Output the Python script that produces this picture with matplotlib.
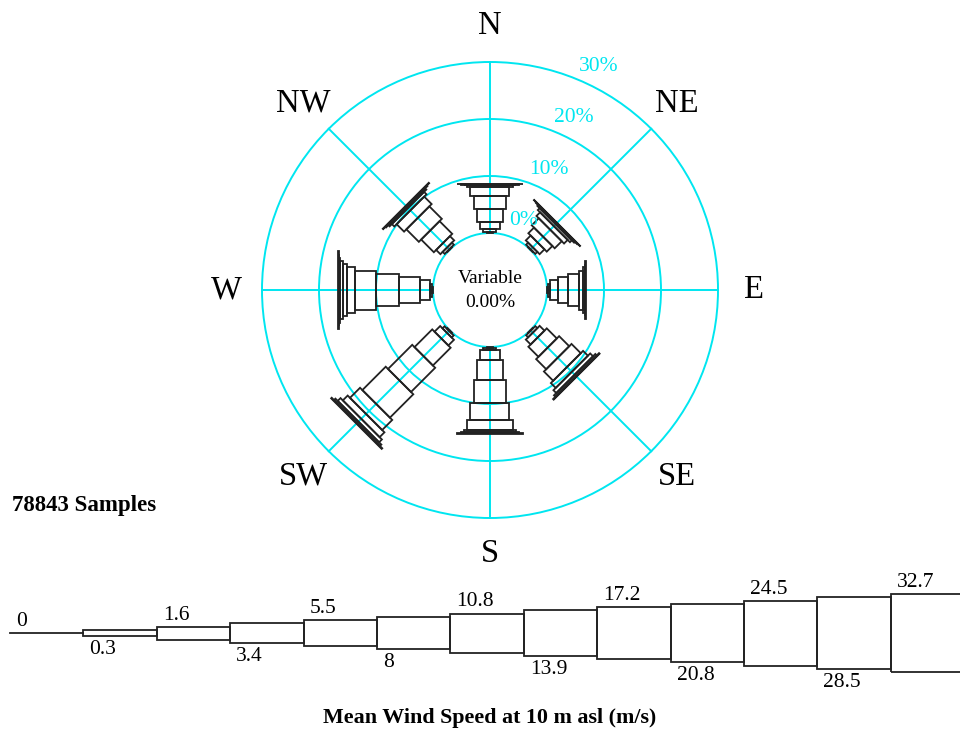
import numpy as np
import matplotlib
matplotlib.use('Agg')
import matplotlib.pyplot as plt
from matplotlib.patches import Polygon, Circle

plt.rcParams['font.family'] = ['Liberation Serif', 'DejaVu Serif']

# data: frequency (%) per direction for speed classes 0.3-1.6 ... >32.7 m/s
directions = ['N', 'NE', 'E', 'SE', 'S', 'SW', 'W', 'NW']
speed_bins = ['0', '0.3', '1.6', '3.4', '5.5', '8', '10.8', '13.9', '17.2', '20.8', '24.5', '28.5', '32.7']
freq_N = [0.1, 0.6, 1.2, 2.3, 2.3, 1.5, 0.35, 0.15, 0.05, 0.03, 0, 0]
freq_NE = [0.1, 0.5, 1.2, 1.4, 1.75, 0.9, 0.45, 0.2, 0.1, 0.05, 0, 0]
freq_E = [0.1, 0.5, 1.35, 1.75, 1.9, 0.75, 0.3, 0.1, 0.03, 0, 0, 0]
freq_SE = [0.1, 0.5, 1.2, 2.5, 2.5, 2.3, 1.2, 0.7, 0.35, 0.15, 0, 0]
freq_S = [0.1, 0.5, 1.75, 3.4, 4.1, 3.0, 1.65, 0.35, 0.2, 0.15, 0, 0]
freq_SW = [0.15, 0.5, 1.4, 4.4, 6.0, 5.8, 2.5, 1.2, 0.7, 0.35, 0.15, 0]
freq_W = [0.1, 0.4, 1.75, 3.7, 4.1, 3.6, 1.4, 0.8, 0.4, 0.2, 0.1, 0.05]
freq_NW = [0.1, 0.5, 1.05, 3.15, 3.1, 1.85, 0.6, 0.3, 0.15, 0.1, 0, 0]
freqs = [freq_N, freq_NE, freq_E, freq_SE, freq_S, freq_SW, freq_W, freq_NW]
ring_pcts = [0, 10, 20, 30]
calm_pct = 0.0
n_samples = 78843

cyan = '#00e6f0'
edge = '#222222'
W, H = 960, 731
px = 5.7            # pixels per percent unit
r0 = 10             # radius of the 0% circle
wunit = 6.5 / px    # bar width per speed class
cx, cy = 490, 290   # rose centre in pixels

fig = plt.figure(figsize=(W / 100, H / 100), dpi=100)

# rose axes covering whole figure, 1 unit = 1 percent
ax = fig.add_axes([0, 0, 1, 1])
ax.set_xlim(-cx / px, (W - cx) / px)
ax.set_ylim(-(H - cy) / px, cy / px)
ax.axis('off')

for p in ring_pcts:
    ax.add_patch(Circle((0, 0), r0 + p, fill=False, ec=cyan, lw=1.4, zorder=1))
    a = np.radians(26)
    rr = r0 + p + 3.6
    ax.text(rr * np.sin(a), rr * np.cos(a), f'{p}%', color=cyan, fontsize=15.5,
            ha='center', va='center', zorder=3)

rmax = r0 + ring_pcts[-1]
for i, d in enumerate(directions):
    a = np.radians(45 * i)
    u = np.array([np.sin(a), np.cos(a)])
    v = np.array([np.cos(a), -np.sin(a)])
    ax.plot([r0 * u[0], rmax * u[0]], [r0 * u[1], rmax * u[1]], color=cyan, lw=1.4, zorder=1)
    ax.text(46.3 * u[0], 46.3 * u[1], d, fontsize=23.5, ha='center', va='center')
    cum = 0
    for k, f in enumerate(freqs[i], start=1):
        if f <= 0:
            continue
        ra, rb = r0 + cum, r0 + cum + f
        h = k * wunit / 2
        pts = [ra * u + h * v, rb * u + h * v, rb * u - h * v, ra * u - h * v]
        ax.add_patch(Polygon(pts, closed=True, fill=False, ec=edge, lw=1.3, zorder=2))
        cum += f

ax.text(0, 2.1, 'Variable', fontsize=14, ha='center', va='center')
ax.text(0, -2.2, f'{calm_pct:.2f}%', fontsize=14, ha='center', va='center')

fig.text(12 / W, 1 - 506 / H, f'{n_samples} Samples', fontsize=16.5, fontweight='bold',
         ha='left', va='center')

# legend strip
lax = fig.add_axes([0, 1 - 690 / H, 1, 100 / H])
seg = 73.4
lax.set_xlim(-10 / seg, (W - 10) / seg)
lax.set_ylim(-57, 43)
lax.axis('off')
lax.plot([0, 1], [0, 0], color=edge, lw=1.3)
for k in range(1, len(speed_bins)):
    h = 3.25 * k
    lax.add_patch(Polygon([(k, -h), (k, h), (k + 1, h), (k + 1, -h)], closed=True,
                          fill=False, ec=edge, lw=1.3, clip_on=False))
for i, lab in enumerate(speed_bins):
    h = 3.25 * i
    if i % 2 == 0:
        lax.text(i + 6 / seg, h + 2, lab, fontsize=15.5, ha='left', va='bottom')
    else:
        lax.text(i + 6 / seg, -h - 4, lab, fontsize=15.5, ha='left', va='top')

fig.text(490 / W, 1 - 718 / H, 'Mean Wind Speed at 10 m asl (m/s)', fontsize=15.8,
         fontweight='bold', ha='center', va='center')

fig.savefig('out.png', dpi=100, facecolor='white')
